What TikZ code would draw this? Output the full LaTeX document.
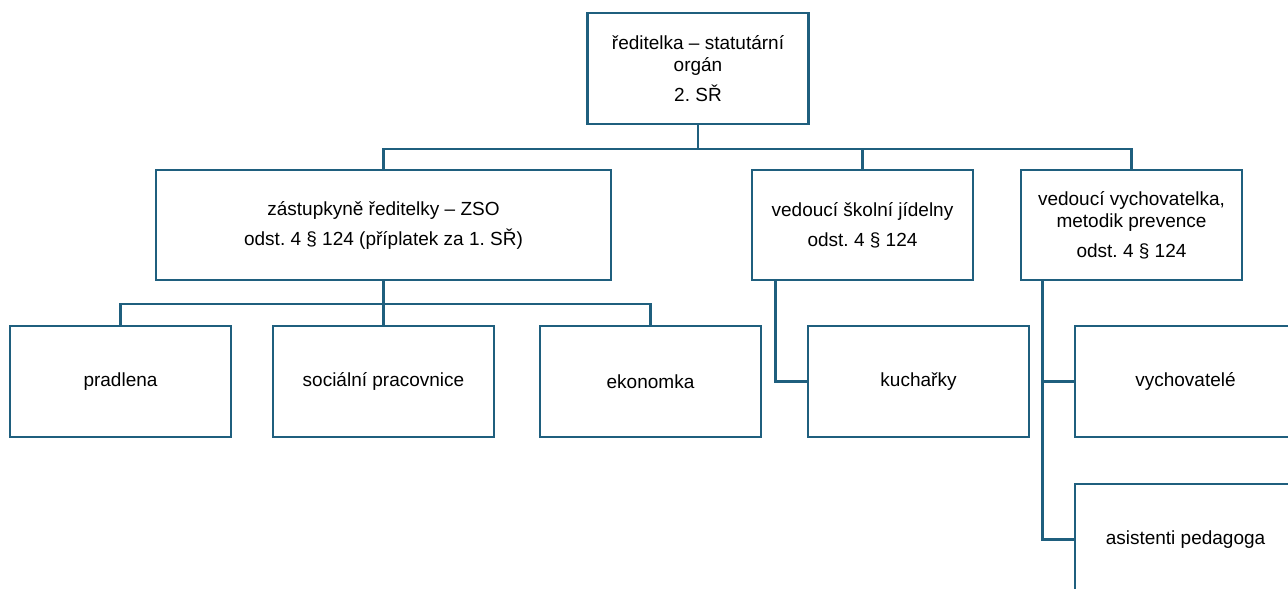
\documentclass[tikz,border=0pt]{standalone}
\usepackage{fontspec}
\setmainfont{Liberation Sans}
\usepackage{tikz}
\usetikzlibrary{positioning}

\definecolor{orgline}{HTML}{1F5F7E}
\frenchspacing

\begin{document}
\begin{tikzpicture}[x=1pt,y=1pt]
            \tikzset{every node/.style={draw=orgline, line width=2.4pt, align=center,
                        minimum width=221pt, minimum height=111pt, inner sep=2pt,
                        font=\fontsize{19}{22}\selectfont},
                    wide/.style={minimum width=455pt, minimum height=110pt},
                    link/.style={draw=orgline, line width=2.4pt}}
            \useasboundingbox (0,0) rectangle (1288,-589);
            \clip (0,0) rectangle (1288,-589);
            \node (1) at (698, -68.5) {ředitelka – statutární\\orgán\\[8pt]2. SŘ};
            \node[wide] (2) at (383.5, -225) {zástupkyně ředitelky – ZSO\\[8pt]odst. 4 § 124 (příplatek za 1. SŘ)};
            \node[minimum height=110pt] (3) at (862.5, -225) {vedoucí školní jídelny\\[8pt]odst. 4 § 124};
            \node[minimum height=110pt] (4) at (1131.5, -225) {vedoucí vychovatelka,\\metodik prevence\\[8pt]odst. 4 § 124};
            \node (5) at (120.5, -381.5) {pradlena};
            \node (6) at (383.5, -381.5) {sociální pracovnice};
            \node (7) at (650.5, -381.5) {ekonomka};
            \node (8) at (918.5, -381.5) {kuchařky};
            \node (9) at (1185.5, -381.5) {vychovatelé};
            \node (10) at (1185.5, -539.5) {asistenti pedagoga};
            \path[link] (1.south) -- ++(0,-24) -| (2.north);
            \path[link] (1.south) -- ++(0,-24) -| (3.north);
            \path[link] (1.south) -- ++(0,-24) -| (4.north);
            \path[link] (2.south) -- ++(0,-23) -| (5.north);
            \path[link] (2.south) -- ++(0,-23) -| (6.north);
            \path[link] (2.south) -- ++(0,-23) -| (7.north);
            \path[link] ([xshift=-87pt]3.south) |- (8.west);
            \path[link] ([xshift=-89pt]4.south) |- (9.west);
            \path[link] ([xshift=-89pt]4.south) |- (10.west);
        \end{tikzpicture}
\end{document}
